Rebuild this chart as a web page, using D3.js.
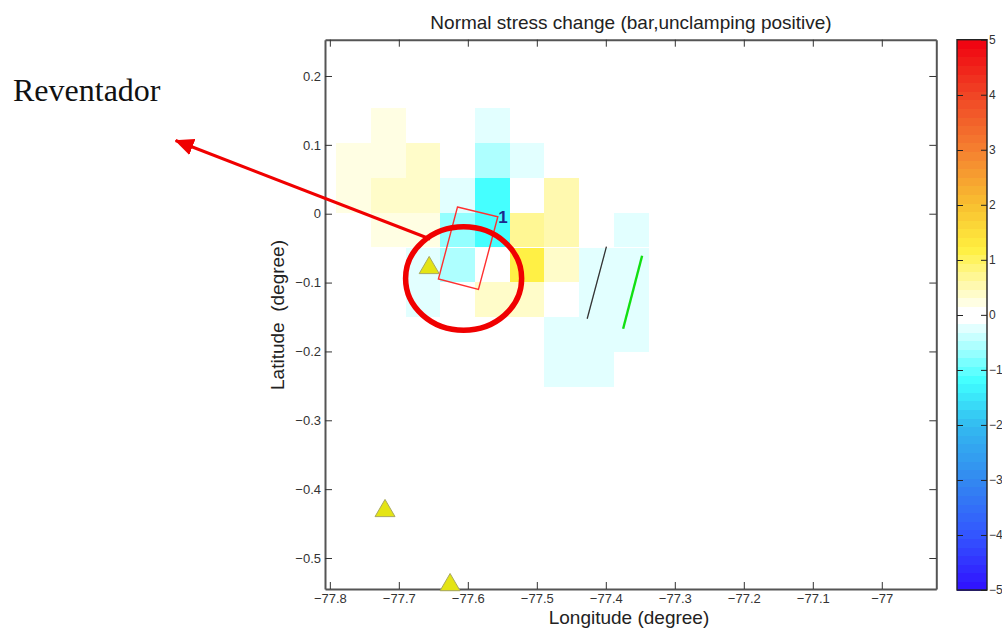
<!DOCTYPE html>
<html>
<head>
<meta charset="utf-8">
<style>
  body { margin: 0; background: #fff; }
  text { font-family: "Liberation Sans", Arial, sans-serif; }
</style>
<script src="https://cdn.jsdelivr.net/npm/d3@7"></script>
</head>
<body>
<svg id="chart" width="1002" height="633"></svg>
<script>
'use strict'
// grid cells: left lon / upper lat of each cell (about 0.05 degree), and stress change in bar
const cellWidth = 0.0503, cellHeight = 0.0504
const cellLon = [
  -77.7405, -77.5896,
  -77.7908, -77.7405, -77.6902, -77.5896, -77.5393,
  -77.7908, -77.7405, -77.6902, -77.6399, -77.5896, -77.489,
  -77.7405, -77.6902, -77.6399, -77.5896, -77.5393, -77.489, -77.3884,
  -77.6902, -77.6399, -77.5393, -77.489, -77.4387, -77.3884,
  -77.6902, -77.5896, -77.5393, -77.4387, -77.3884,
  -77.489, -77.4387, -77.3884,
  -77.489, -77.4387
]
const cellLat = [
  0.153, 0.153,
  0.1022, 0.1022, 0.1022, 0.1022, 0.1022,
  0.0518, 0.0518, 0.0518, 0.0518, 0.0518, 0.0518,
  0.0015, 0.0015, 0.0015, 0.0015, 0.0015, 0.0015, 0.0015,
  -0.0494, -0.0494, -0.0494, -0.0494, -0.0494, -0.0494,
  -0.0996, -0.0996, -0.0996, -0.0996, -0.0996,
  -0.15, -0.15, -0.15,
  -0.2008, -0.2008
]
const cellValue = [
  0.2, -0.2,
  0.2, 0.2, 0.35, -0.6, -0.2,
  0.2, 0.35, 0.35, -0.2, -1.1, 0.5,
  0.2, 0.2, -0.7, -1.1, 0.75, 0.55, -0.2,
  -0.2, -0.6, 1.1, 0.35, -0.2, -0.2,
  -0.2, 0.35, 0.35, -0.2, -0.2,
  -0.2, -0.2, -0.2,
  -0.2, -0.2
]

const lonTicks = [-77.8, -77.7, -77.6, -77.5, -77.4, -77.3, -77.2, -77.1, -77]
const latTicks = [0.2, 0.1, 0, -0.1, -0.2, -0.3, -0.4, -0.5]
const barTicks = [5, 4, 3, 2, 1, 0, -1, -2, -3, -4, -5]

// colour map stops, blue to red
const stopValue = [-5, -4, -3, -2, -1.2, -0.16, 0, 0.16, 1.2, 2, 3, 4, 5]
const stopColor = ['#3010ff', '#3355ff', '#3388f0', '#33bbf0', '#40ffff', '#efffff', '#ffffff',
                   '#fffff0', '#fff040', '#f8c030', '#f58030', '#f04525', '#f00010']
const barLevels = 64

// volcanoes
const volcanoLon = [-77.656, -77.72, -77.6257]
const volcanoLat = [-0.0745, -0.4274, -0.535]

// fault outline and the two lines
const faultLon = [-77.615, -77.5565, -77.5846, -77.6426]
const faultLat = [0.0097, -0.0044, -0.1098, -0.0948]
const blackLon = [-77.3991, -77.427]
const blackLat = [-0.0479, -0.1525]
const greenLon = [-77.3474, -77.3749]
const greenLat = [-0.061, -0.167]

// hand drawn annotation
const arrowLon = [-77.6546, -78.0235]
const arrowLat = [-0.0367, 0.1063]
const ringLon = -77.6061, ringLat = -0.0941, ringLonR = 0.0841, ringLatR = 0.0751

const svg = d3.select('#chart')
const box = {left: 325, right: 936.3, top: 39.7, bottom: 589}
const bar = {left: 957, right: 987, top: 39.7, bottom: 590}

const x = d3.scaleLinear().domain([-77.807, -76.921]).range([box.left, box.right])
const y = d3.scaleLinear().domain([0.2527, -0.545]).range([box.top, box.bottom])
const barY = d3.scaleLinear().domain([5, -5]).range([bar.top, bar.bottom])

const ramp = d3.scaleLinear().domain(stopValue).range(stopColor)
const levelValues = d3.range(barLevels).map(i => -5 + (i + 0.5) * 10 / barLevels)
const color = d3.scaleQuantize().domain([-5, 5]).range(levelValues.map(v => Math.abs(v) < 0.156 ? '#ffffff' : ramp(v)))

const minus = s => String(s).replace('-', '\u2212')

// cells
svg.append('g').selectAll('rect').data(cellValue).enter().append('rect')
  .attr('x', (d, i) => x(cellLon[i]))
  .attr('y', (d, i) => y(cellLat[i]))
  .attr('width', (d, i) => x(cellLon[i] + cellWidth) - x(cellLon[i]))
  .attr('height', (d, i) => y(cellLat[i] - cellHeight) - y(cellLat[i]))
  .attr('fill', d => color(d))
  .attr('shape-rendering', 'crispEdges')

// axes, ticks point inward on all four sides
function styleAxis(g){
  g.select('.domain').attr('stroke', '#555').attr('stroke-width', 2)
  g.selectAll('.tick line').attr('stroke', '#333').attr('stroke-width', 1)
  g.selectAll('.tick text').attr('fill', '#333').style('font-size', '13px')
}
svg.append('g').attr('transform', `translate(0,${box.bottom})`)
  .call(d3.axisBottom(x).tickValues(lonTicks).tickSize(-7).tickSizeOuter(0).tickPadding(5).tickFormat(minus))
  .call(styleAxis)
svg.append('g').attr('transform', `translate(0,${box.top})`)
  .call(d3.axisTop(x).tickValues(lonTicks).tickSize(-7).tickSizeOuter(0).tickFormat(''))
  .call(styleAxis)
svg.append('g').attr('transform', `translate(${box.left},0)`)
  .call(d3.axisLeft(y).tickValues(latTicks).tickSize(-7).tickSizeOuter(0).tickPadding(4).tickFormat(minus))
  .call(styleAxis)
svg.append('g').attr('transform', `translate(${box.right},0)`)
  .call(d3.axisRight(y).tickValues(latTicks).tickSize(-7).tickSizeOuter(0).tickFormat(''))
  .call(styleAxis)

// fault, lines
const line = d3.line().x(d => x(d[0])).y(d => y(d[1]))
svg.append('path').datum(d3.zip(faultLon, faultLat))
  .attr('d', d => line(d) + 'Z').attr('fill', 'none').attr('stroke', '#ff3030').attr('stroke-width', 1.4)
svg.append('path').datum(d3.zip(blackLon, blackLat))
  .attr('d', line).attr('stroke', '#333').attr('stroke-width', 1.3)
svg.append('path').datum(d3.zip(greenLon, greenLat))
  .attr('d', line).attr('stroke', '#12e012').attr('stroke-width', 2.4)
svg.append('text').attr('x', x(-77.549)).attr('y', y(-0.0135)).attr('text-anchor', 'middle')
  .attr('fill', '#1c2a8c').style('font-size', '17px').style('font-weight', 'bold').text('1')

// volcano triangles
svg.append('g').selectAll('path').data(volcanoLon).enter().append('path')
  .attr('transform', (d, i) => `translate(${x(d)},${y(volcanoLat[i])})`)
  .attr('d', 'M0,-8.6L10,8.6L-10,8.6Z')
  .attr('fill', '#e4e414').attr('stroke', '#a8a860').attr('stroke-width', 1)

// annotation on top
svg.append('ellipse')
  .attr('cx', x(ringLon)).attr('cy', y(ringLat))
  .attr('rx', x(ringLon + ringLonR) - x(ringLon)).attr('ry', y(ringLat - ringLatR) - y(ringLat))
  .attr('fill', 'none').attr('stroke', '#f00000').attr('stroke-width', 5.5)
svg.append('defs').append('marker').attr('id', 'head')
  .attr('viewBox', '0 0 19 17').attr('refX', 18).attr('refY', 8.5)
  .attr('markerWidth', 19).attr('markerHeight', 17).attr('markerUnits', 'userSpaceOnUse').attr('orient', 'auto')
  .append('path').attr('d', 'M0,0L19,8.5L0,17Z').attr('fill', '#f00000')
svg.append('path').datum(d3.zip(arrowLon, arrowLat))
  .attr('d', line).attr('stroke', '#f00000').attr('stroke-width', 3).attr('marker-end', 'url(#head)')

// colour bar
const levelH = (bar.bottom - bar.top) / barLevels
svg.append('g').selectAll('rect').data(levelValues).enter().append('rect')
  .attr('x', bar.left).attr('width', bar.right - bar.left)
  .attr('y', d => barY(d) - levelH / 2).attr('height', levelH + 0.5)
  .attr('fill', d => color(d)).attr('shape-rendering', 'crispEdges')
svg.append('rect').attr('x', bar.left).attr('y', bar.top)
  .attr('width', bar.right - bar.left).attr('height', bar.bottom - bar.top)
  .attr('fill', 'none').attr('stroke', '#222').attr('stroke-width', 1.4)
const barAxis = svg.append('g').attr('transform', `translate(${bar.right},0)`)
  .call(d3.axisRight(barY).tickValues(barTicks).tickSize(-6).tickSizeOuter(0).tickPadding(3).tickFormat(minus))
barAxis.select('.domain').remove()
barAxis.selectAll('.tick line').attr('stroke', '#222')
barAxis.selectAll('.tick text').attr('x', 2).attr('fill', '#333').style('font-size', '12px')
svg.append('g').selectAll('line').data(barTicks.filter(d => Math.abs(d) < 5)).enter().append('line')
  .attr('x1', bar.left).attr('x2', bar.left + 6)
  .attr('y1', d => Math.round(barY(d)) + 0.5).attr('y2', d => Math.round(barY(d)) + 0.5)
  .attr('stroke', '#222')

// titles
svg.append('text').attr('x', 631).attr('y', 28.5).attr('text-anchor', 'middle')
  .attr('fill', '#222').style('font-size', '19px').text('Normal stress change (bar,unclamping positive)')
svg.append('text').attr('x', 629).attr('y', 624).attr('text-anchor', 'middle')
  .attr('fill', '#222').style('font-size', '19px').text('Longitude (degree)')
svg.append('text').attr('transform', 'translate(284,315) rotate(-90)').attr('text-anchor', 'middle')
  .attr('fill', '#222').style('font-size', '19px').style('white-space', 'pre').text('Latitude  (degree)')
svg.append('text').attr('x', 13).attr('y', 100.5)
  .attr('fill', '#111').style('font-family', '"Liberation Serif", serif').style('font-size', '32px').text('Reventador')
</script>
</body>
</html>
